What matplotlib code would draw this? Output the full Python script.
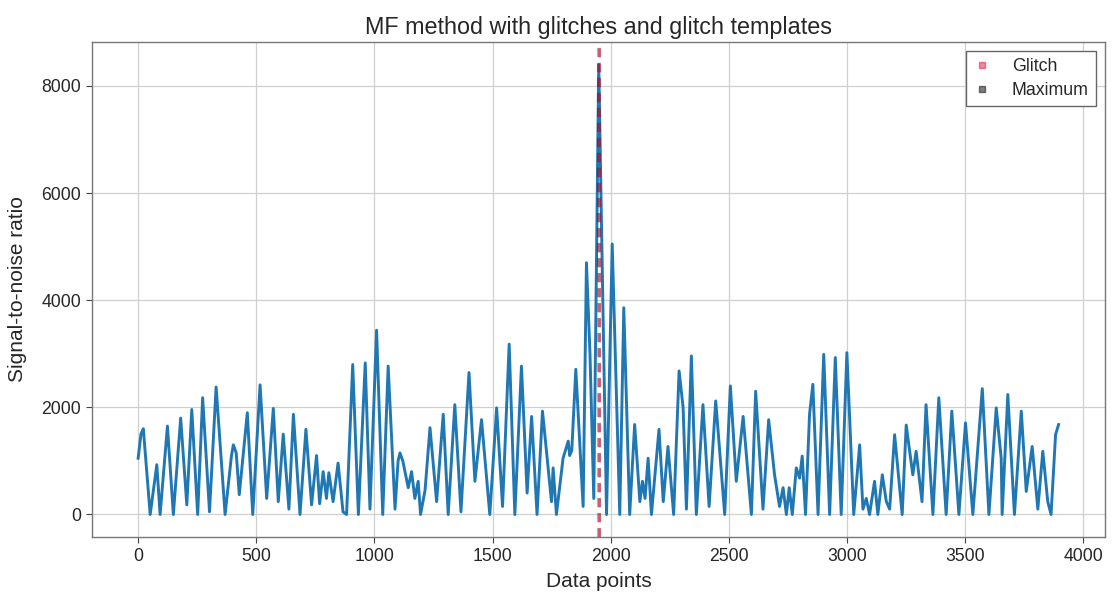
import matplotlib
matplotlib.use("Agg")
import matplotlib.pyplot as plt
from matplotlib.lines import Line2D

plt.rcParams['font.family'] = ['Liberation Sans', 'DejaVu Sans']
plt.rcParams['text.color'] = '#262626'
plt.rcParams['axes.labelcolor'] = '#262626'
plt.rcParams['xtick.color'] = '#262626'
plt.rcParams['ytick.color'] = '#262626'

# Signal-to-noise ratio read at turning points (data-point index, value)
snr_index = [0, 12, 22, 51, 79, 93, 124, 149, 180, 206, 227, 252, 273, 302, 330, 368,
             395, 403, 415, 428, 462, 485, 516, 544, 572, 593, 614, 638, 657, 685,
             710, 734, 755, 768, 783, 797, 807, 825, 846, 867, 882, 908, 932, 961,
             981, 1009, 1035, 1058, 1087, 1100, 1108, 1120, 1143, 1157, 1171, 1185,
             1195, 1214, 1235, 1263, 1291, 1312, 1340, 1366, 1400, 1425, 1453, 1488,
             1517, 1542, 1570, 1594, 1622, 1646, 1665, 1688, 1711, 1735, 1749, 1756,
             1770, 1798, 1820, 1826, 1835, 1852, 1883, 1897, 1912, 1928, 1949, 1982,
             2006, 2038, 2055, 2080, 2101, 2123, 2134, 2145, 2158, 2172, 2204, 2222,
             2242, 2266, 2289, 2306, 2320, 2341, 2362, 2390, 2416, 2444, 2482, 2506,
             2531, 2560, 2595, 2613, 2644, 2668, 2693, 2714, 2729, 2743, 2755, 2768,
             2785, 2799, 2810, 2824, 2841, 2855, 2877, 2901, 2926, 2950, 2975, 2999,
             3028, 3053, 3067, 3081, 3095, 3116, 3130, 3149, 3166, 3180, 3201, 3233,
             3250, 3278, 3292, 3317, 3334, 3363, 3388, 3419, 3443, 3473, 3501, 3532,
             3572, 3600, 3631, 3652, 3656, 3680, 3708, 3737, 3758, 3783, 3807, 3828,
             3849, 3863, 3882, 3895]
snr_value = [1050, 1500, 1600, 0, 930, 0, 1650, 0, 1800, 180, 1960, 0, 2180, 50, 2380, 0,
             1100, 1300, 1150, 370, 1900, 0, 2420, 300, 1980, 240, 1500, 100, 1870, 0,
             1590, 180, 1100, 200, 800, 300, 780, 240, 960, 50, 0, 2800, 0, 2830,
             100, 3440, 0, 2770, 100, 1000, 1150, 1000, 500, 800, 300, 620,
             0, 450, 1620, 240, 1870, 0, 2050, 50, 2650, 620, 1770, 0,
             1990, 150, 3180, 0, 2770, 400, 1830, 0, 1930, 870, 240, 870,
             0, 1050, 1370, 1100, 1200, 2710, 150, 4700, 3000, 300, 8400, 0,
             5050, 0, 3860, 0, 1680, 240, 620, 300, 1050, 0, 1590, 240,
             1270, 0, 2680, 2000, 100, 2960, 0, 2050, 150, 2120, 0, 2400,
             620, 1830, 0, 2300, 100, 1770, 740, 150, 500, 0, 500, 0,
             870, 680, 1090, 0, 1870, 2430, 0, 2990, 0, 2930, 0, 3020,
             0, 1300, 100, 300, 0, 620, 0, 740, 240, 100, 1490, 0,
             1670, 740, 1180, 240, 2050, 0, 2180, 0, 1930, 0, 1710, 0,
             2350, 0, 1990, 1050, 0, 2240, 0, 1930, 430, 1270, 100, 1180,
             240, 0, 1490, 1680]

glitch_position = 1949
maximum_position = 1949

fig = plt.figure(figsize=(11.17, 5.96), dpi=100)
ax = fig.add_axes([0.0824, 0.099, 0.9066, 0.8305])

ax.plot(snr_index, snr_value, color='#1f77b4', lw=2.1)
ax.axvline(maximum_position, color='black', lw=3.0, alpha=0.3, dashes=(2.2, 1.4))
ax.axvline(glitch_position, color='crimson', lw=2.0, alpha=0.55, dashes=(3.3, 2.1))

ax.set_xlim(-195, 4090)
ax.set_ylim(-420, 8820)
ax.set_xticks([0, 500, 1000, 1500, 2000, 2500, 3000, 3500, 4000])
ax.set_yticks([0, 2000, 4000, 6000, 8000])
ax.grid(True, color='#d0d0d0', lw=0.9)
ax.set_axisbelow(True)
ax.tick_params(labelsize=12.7, length=4, color='#444444', direction='out', pad=4)
for s in ax.spines.values():
    s.set_color('#777777')
    s.set_linewidth(1.0)

ax.set_title('MF method with glitches and glitch templates', fontsize=16.8, pad=6)
ax.set_xlabel('Data points', fontsize=15, labelpad=5)
ax.set_ylabel('Signal-to-noise ratio', fontsize=15, labelpad=10)

handles = [Line2D([], [], ls='none', marker='s', ms=5, color='crimson', alpha=0.5),
           Line2D([], [], ls='none', marker='s', ms=5, color='black', alpha=0.5)]
leg = ax.legend(handles, ['Glitch', 'Maximum'], loc='upper right', fontsize=12.8,
                fancybox=False, edgecolor='#666666', framealpha=1, borderpad=0.4,
                handlelength=1.0, handletextpad=1.2, labelspacing=0.4)

fig.savefig('out.png', dpi=100)
